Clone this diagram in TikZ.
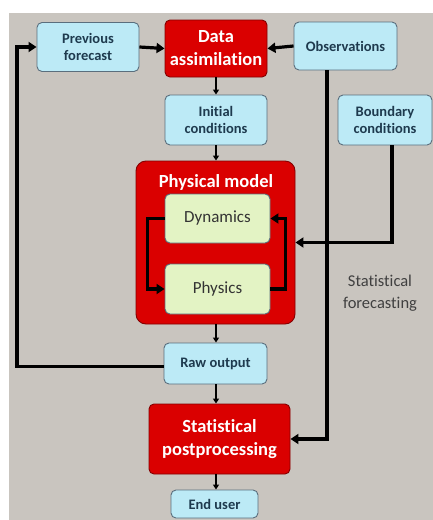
\documentclass[tikz,border=0pt]{standalone}
\usepackage{fontspec}
\setmainfont[Ligatures=NoCommon]{Carlito}
\usetikzlibrary{arrows.meta}
\definecolor{bggray}{RGB}{201,197,191}
\definecolor{boxblue}{RGB}{188,234,246}
\definecolor{boxred}{RGB}{218,0,0}
\definecolor{boxgreen}{RGB}{227,243,196}
\definecolor{txtblue}{RGB}{30,58,78}
\definecolor{edgeblue}{RGB}{90,110,125}
\tikzset{
  base/.style={rounded corners=5pt, align=center, inner sep=0pt, line width=0.9pt},
  bluebox/.style={base, draw=edgeblue, fill=boxblue, text=txtblue, font=\bfseries\fontsize{14.5}{17}\selectfont},
  redbox/.style={base, draw=boxred!60!black, fill=boxred, text=white, font=\bfseries\fontsize{18.5}{23}\selectfont},
  greenbox/.style={base, draw=edgeblue, fill=boxgreen, text=black!80, font=\fontsize{17}{20}\selectfont},
  thickarrow/.style={line width=3.2pt, -{Triangle[length=8pt,width=10pt]}},
  thinarrow/.style={line width=1.6pt, -{Triangle[length=5pt,width=6pt]}},
}
\begin{document}
\begin{tikzpicture}[x=1pt,y=-1pt]
\useasboundingbox (0,0) rectangle (433,520);
\fill[white] (0,0) rectangle (433,520);
\fill[bggray] (9,13) rectangle (433,520);

\node[bluebox, minimum width=102, minimum height=49] (prev) at (88,47) {Previous\\forecast};
\node[redbox, minimum width=102, minimum height=57] (da) at (216,48.5) {Data\\assimilation};
\node[bluebox, minimum width=103, minimum height=48] (obs) at (345.5,46) {Observations};
\node[bluebox, minimum width=102, minimum height=50] (ic) at (216,120) {Initial\\conditions};
\node[bluebox, minimum width=94, minimum height=50] (bc) at (385,120) {Boundary\\conditions};
\node[redbox, rounded corners=10pt, minimum width=159, minimum height=163] (pm) at (215.5,242.5) {};
\node[text=white, font=\bfseries\fontsize{18.5}{22}\selectfont] (pmlabel) at (216,182) {Physical model};
\node[greenbox, minimum width=105, minimum height=49] (dyn) at (217.5,218.5) {Dynamics};
\node[greenbox, minimum width=105, minimum height=50] (phy) at (217.5,289) {Physics};
\node[bluebox, minimum width=103, minimum height=41] (raw) at (215.5,363.5) {Raw output};
\node[redbox, minimum width=141, minimum height=70] (spp) at (219.5,439) {Statistical\\postprocessing};
\node[bluebox, minimum width=87, minimum height=28] (eu) at (214.5,504) {End user};
\node[align=center, text=black!75, font=\fontsize{16.5}{22}\selectfont] (sf) at (380,293) {Statistical\\forecasting};

\coordinate (ox) at (327,0);
\coordinate (bx) at (392,0);
\coordinate (lx) at (17,0);
\coordinate (cx) at (216,0);

\draw[thickarrow] (prev.east) -- (da.west);
\draw[thickarrow] (obs.west) -- (da.east);
\draw[thinarrow] (da.south) -- (ic.north);
\draw[thinarrow] (ic.south) -- (ic.south |- pm.north);
\draw[thinarrow] (pm.south -| cx) -- (raw.north -| cx);
\draw[thinarrow] (raw.south -| cx) -- (spp.north -| cx);
\draw[thinarrow] (spp.south -| cx) -- (eu.north -| cx);
\draw[thickarrow] ([yshift=-3]raw.west) -- ([yshift=-3]raw.west -| lx) |- (prev.west);
\draw[thickarrow] (obs.south -| ox) |- (spp.east);
\draw[thickarrow] (bc.south -| bx) |- (pm.east);
\draw[thickarrow] (dyn.west) -- ++(-17,0) |- (phy.west);
\draw[thickarrow] (phy.east) -- ++(15,0) |- (dyn.east);
\end{tikzpicture}
\end{document}
